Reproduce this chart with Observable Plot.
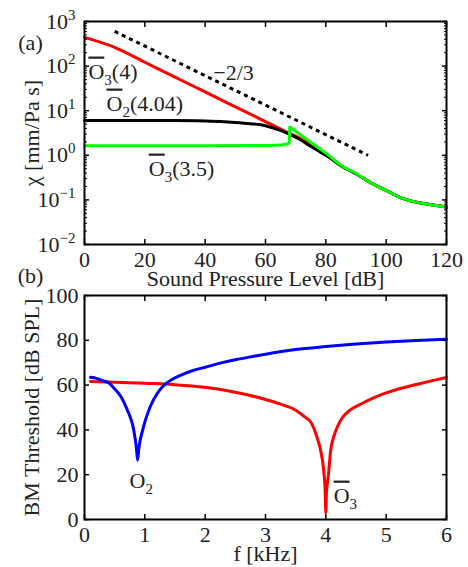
<!DOCTYPE html>
<html><head><meta charset="utf-8">
<script src="https://cdn.jsdelivr.net/npm/d3@7"></script>
<script src="https://cdn.jsdelivr.net/npm/@observablehq/plot@0.6"></script>
<style>
body{margin:0;background:#fff;}
#chart{width:468px;height:567px;}
#chart svg{display:block;overflow:visible;}
#chart text{font-family:"Liberation Serif",serif;font-variant:normal;}
</style></head><body><div id="chart"></div>
<script>
// ---------- Panel (a): chi vs sound pressure level ----------
const redX   = [0, 10, 20, 30, 40, 50, 60, 66, 68, 70, 72, 75, 78, 80, 85, 90, 95, 100, 105, 110, 115, 120];
const redY   = [440, 263, 122, 56.5, 26.3, 12.2, 5.7, 3.6, 3.1, 2.7, 2.3, 1.75, 1.28, 1.05, 0.59, 0.385, 0.24, 0.163, 0.111, 0.089, 0.078, 0.069];
const blackX = [0, 30, 40, 45, 50, 55, 60, 63, 66, 68, 70, 72, 74, 76, 78, 80, 82, 85, 88, 90, 95, 100, 105, 110, 115, 120];
const blackY = [6.0, 6.0, 5.85, 5.7, 5.45, 5.1, 4.6, 4.0, 3.4, 2.95, 2.55, 2.15, 1.75, 1.45, 1.2, 1.0, 0.82, 0.58, 0.45, 0.385, 0.24, 0.163, 0.111, 0.089, 0.078, 0.069];
const greenX = [0, 20, 40, 60, 63, 66, 67, 67.9, 68.0, 70, 72, 74, 76, 78, 80, 82, 85, 88, 90, 95, 100, 105, 110, 115, 120];
const greenY = [1.64, 1.64, 1.64, 1.65, 1.67, 1.72, 1.8, 1.88, 4.3, 3.45, 2.75, 2.2, 1.75, 1.4, 1.12, 0.87, 0.6, 0.46, 0.39, 0.24, 0.163, 0.111, 0.089, 0.078, 0.069];
const slopeX = [10, 94];
const slopeY = [600, 1.0];
const xTicksA = [0, 20, 40, 60, 80, 100, 120];
const yTicksA = [1e-2, 1e-1, 1, 10, 100, 1000];
const annA_text = ["~O_3(4)", "~O_2(4.04)", "\u22122/3", "~O_3(3.5)"];
const annA_x    = [1.3, 7.3, 42.7, 21.3];
const annA_y    = [75.7, 14.5, 72, 0.506];

// ---------- Panel (b): BM threshold vs frequency ----------
const blueF = [0.1, 0.2, 0.3, 0.4, 0.5, 0.6, 0.7, 0.76, 0.8, 0.84, 0.86, 0.88, 0.9, 0.92, 0.96, 1.0, 1.05, 1.1, 1.2, 1.3, 1.45, 1.6, 1.8, 2.0, 2.25, 2.5, 2.75, 3.0, 3.5, 4.0, 4.5, 5.0, 5.5, 6.0];
const blueT = [63.5, 63.0, 62.0, 61.0, 58.3, 55.0, 49.5, 45.5, 42, 36, 32, 26.5, 31.5, 35, 39.5, 43.5, 47.5, 51, 56, 59.5, 62.5, 64.5, 66.5, 68, 69.8, 71.3, 72.6, 73.8, 75.9, 77.2, 78.3, 79.2, 79.9, 80.5];
const redF  = [0.1, 0.5, 1.0, 1.5, 2.0, 2.5, 3.0, 3.25, 3.5, 3.65, 3.75, 3.85, 3.92, 3.96, 3.99, 4.0, 4.01, 4.04, 4.08, 4.15, 4.25, 4.4, 4.6, 4.8, 5.0, 5.25, 5.5, 5.75, 6.0];
const redT  = [61.6, 61.3, 60.8, 60.2, 59.0, 56.8, 53.6, 51.5, 48.8, 45.8, 43.5, 37, 30, 23, 12, 3, 12, 19, 30.8, 38.5, 44.5, 48.8, 51.8, 54.4, 56.5, 58.6, 60.3, 61.9, 63.4];
const xTicksB = [0, 1, 2, 3, 4, 5, 6];
const yTicksB = [0, 20, 40, 60, 80, 100];
const annB_text = ["O_2", "~O_3"];
const annB_x    = [0.746, 4.13];
const annB_y    = [17.0, 10.7];

// ---------- helpers ----------
const FONT = "Liberation Serif";
const TXT = {fontFamily: FONT, fontSize: 22, fill: "#222"};
const zip = (xs, ys) => xs.map((x, i) => ({x, y: ys[i]}));
const ann = (t, xs, ys) => t.map((s, i) => ({t: s, x: xs[i], y: ys[i]}));
const minorA = [];
for (let k = -2; k <= 2; k++) for (let m = 2; m <= 9; m++) minorA.push(m * Math.pow(10, k));
const fmtPow = d => "10^" + String(Math.round(Math.log10(d))).replace("-", "\u2212");

function boxAxes(xT, yT, yMinor, yFmt, yPad) {
  const m = [
    Plot.frame({stroke: "black", strokeWidth: 2}),
    Plot.axisX(xT, {anchor: "bottom", tickSize: -5, strokeWidth: 1.5, fill: "none", label: null}),
    Plot.axisX(xT, {anchor: "top", tickSize: -5, strokeWidth: 1.5, fill: "none", label: null}),
    Plot.axisY(yT, {anchor: "left", tickSize: -5, strokeWidth: 1.5, fill: "none", label: null}),
    Plot.axisY(yT, {anchor: "right", tickSize: -5, strokeWidth: 1.5, fill: "none", label: null}),
    Plot.axisX(xT, {anchor: "bottom", tickSize: 0, tickPadding: 7, ...TXT, label: null}),
    Plot.axisY(yT, {anchor: "left", tickSize: 0, tickPadding: yPad, ...TXT, tickFormat: yFmt, label: null})
  ];
  if (yMinor) {
    m.push(Plot.axisY(yMinor, {anchor: "left", tickSize: -3, strokeWidth: 1, fill: "none", label: null}));
    m.push(Plot.axisY(yMinor, {anchor: "right", tickSize: -3, strokeWidth: 1, fill: "none", label: null}));
  }
  return m;
}

function rich(svg) {
  d3.select(svg).selectAll("text").each(function () {
    const s = this.textContent;
    if (!/[~_^]/.test(s) || this.children.length) return;
    const el = d3.select(this);
    el.text(null);
    let shift = 0;
    const re = /~(\S)|_(\d+)|\^([\u2212-]?\d+)|([^~_^]+)/g;
    for (const m of s.matchAll(re)) {
      const t = el.append("tspan");
      if (m[2]) { t.text(m[2]).attr("font-size", 15).attr("dy", 6 - shift); shift = 6; }
      else if (m[3]) { t.text(m[3]).attr("font-size", 15).attr("dy", -9 - shift); shift = -9; }
      else {
        t.text(m[1] || m[4]);
        if (shift) t.attr("dy", -shift);
        shift = 0;
        if (m[1]) t.style("text-decoration", "overline").style("text-decoration-thickness", "1px");
      }
    }
  });
}

const style = {fontFamily: FONT, fontSize: "22px", color: "black", background: "white", overflow: "visible"};

const plotA = Plot.plot({
  width: 468, height: 290,
  marginLeft: 84, marginRight: 22, marginTop: 21, marginBottom: 46,
  style,
  x: {domain: [0, 120]},
  y: {type: "log", domain: [1e-2, 1e3]},
  marks: [
    Plot.line(zip(slopeX, slopeY), {x: "x", y: "y", stroke: "black", strokeWidth: 3, strokeDasharray: "4,4", strokeLinecap: "butt"}),
    Plot.line(zip(redX, redY), {x: "x", y: "y", stroke: "#ff0000", strokeWidth: 3, curve: "monotone-x"}),
    Plot.line(zip(blackX, blackY), {x: "x", y: "y", stroke: "#000000", strokeWidth: 3, curve: "monotone-x"}),
    Plot.line(zip(greenX, greenY), {x: "x", y: "y", stroke: "#00ff00", strokeWidth: 3, curve: "monotone-x"}),
    ...boxAxes(xTicksA, yTicksA, minorA, fmtPow, 9),
    Plot.text(ann(annA_text, annA_x, annA_y), {x: "x", y: "y", text: "t", textAnchor: "start", lineAnchor: "middle", ...TXT}),
    Plot.text(["\u03c7 [mm/Pa s]"], {frameAnchor: "left", rotate: -90, dx: -53, textAnchor: "middle", lineAnchor: "middle", text: d => d, ...TXT}),
    Plot.text(["Sound Pressure Level [dB]"], {frameAnchor: "bottom", dy: 34, textAnchor: "middle", lineAnchor: "middle", text: d => d, ...TXT}),
    Plot.text(["(a)"], {frameAnchor: "top-left", dx: -54, dy: 21, textAnchor: "middle", lineAnchor: "middle", text: d => d, ...TXT}),
    Plot.text(["(b)"], {frameAnchor: "bottom-left", dx: -54, dy: 31, textAnchor: "middle", lineAnchor: "middle", text: d => d, ...TXT})
  ]
});

const plotB = Plot.plot({
  width: 468, height: 277,
  marginLeft: 84, marginRight: 22, marginTop: 5, marginBottom: 48,
  style,
  x: {domain: [0, 6]},
  y: {domain: [0, 100]},
  marks: [
    Plot.line(zip(redF, redT), {x: "x", y: "y", stroke: "#ff0000", strokeWidth: 3, curve: "monotone-x"}),
    Plot.line(zip(blueF, blueT), {x: "x", y: "y", stroke: "#0000ff", strokeWidth: 3, curve: "monotone-x"}),
    ...boxAxes(xTicksB, yTicksB, null, d => String(d), 6),
    Plot.text(ann(annB_text, annB_x, annB_y), {x: "x", y: "y", text: "t", textAnchor: "start", lineAnchor: "middle", ...TXT}),
    Plot.text(["BM Threshold [dB SPL]"], {frameAnchor: "left", rotate: -90, dx: -53, textAnchor: "middle", lineAnchor: "middle", text: d => d, ...TXT}),
    Plot.text(["f [kHz]"], {frameAnchor: "bottom", dy: 34, textAnchor: "middle", lineAnchor: "middle", text: d => d, ...TXT})
  ]
});

rich(plotA);
rich(plotB);
document.getElementById("chart").append(plotA, plotB);
</script></body></html>
